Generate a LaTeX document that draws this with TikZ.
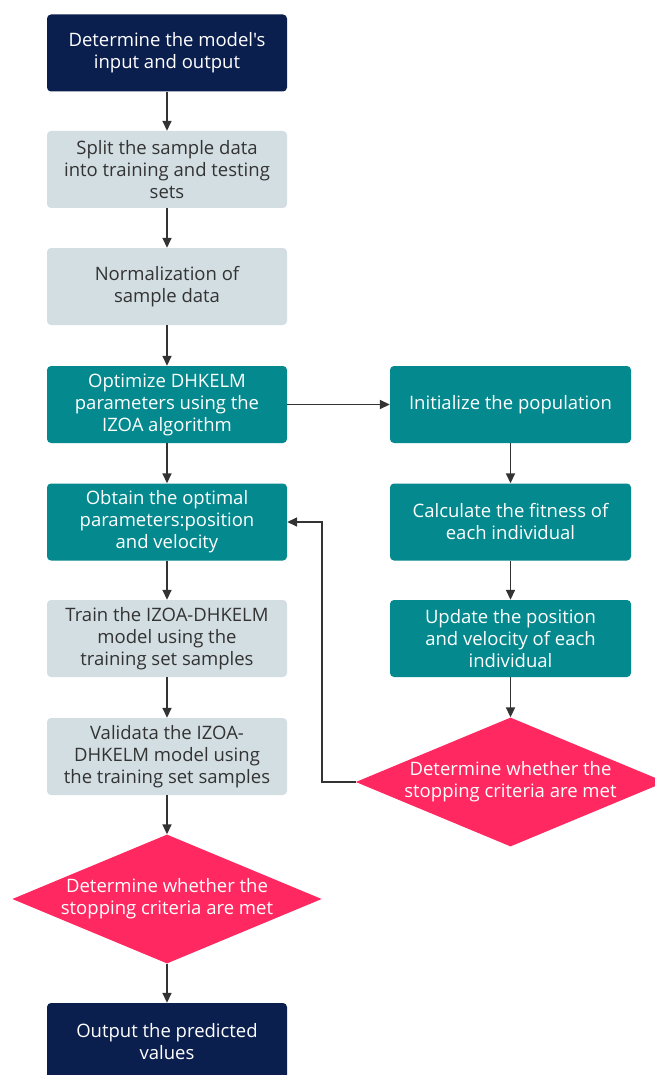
\documentclass[tikz,border=0pt]{standalone}
\usepackage{fontspec}
\setmainfont{Open Sans}[Ligatures=TeXOff]
\usetikzlibrary{arrows.meta,shapes.geometric}
\definecolor{navy}{HTML}{0B1F4F}
\definecolor{tealbox}{HTML}{03898E}
\definecolor{lightbox}{HTML}{D3DEE3}
\definecolor{pinkdia}{HTML}{FF2860}
\definecolor{arrowc}{HTML}{333333}
\definecolor{darktext}{HTML}{333333}
\tikzset{
  base/.style={rectangle, rounded corners=4pt, minimum width=240pt, minimum height=77pt, align=center, inner sep=2pt, font=\fontsize{18.5}{22}\selectfont},
  navybox/.style={base, fill=navy, text=white},
  tealnode/.style={base, fill=tealbox, text=white},
  lightnode/.style={base, fill=lightbox, text=darktext},
  decision/.style={diamond, fill=pinkdia, text=white, minimum width=309pt, minimum height=128pt, aspect=2.4, inner sep=0pt, align=center, font=\fontsize{18.5}{22}\selectfont},
  conn/.style={draw=arrowc, line width=1.6pt, -{Triangle[length=10pt,width=9pt]}}
}
\begin{document}
\begin{tikzpicture}[x=1pt,y=-1pt]
\useasboundingbox (0,0) rectangle (655,1075);
\clip (0,0) rectangle (655,1075);
\fill[white] (0,0) rectangle (655,1075);
\node[navybox] (b1) at (167,53) {Determine the model's\\input and output};
\node[lightnode] (b2) at (167,169.5) {Split the sample data\\into training and testing\\sets};
\node[lightnode] (b3) at (167,286.5) {Normalization of\\sample data};
\node[tealnode] (b4) at (167,404.5) {Optimize DHKELM\\parameters using the\\IZOA algorithm};
\node[tealnode] (b5) at (167,522) {Obtain the optimal\\parameters:position\\and velocity};
\node[lightnode] (b6) at (167,638.5) {Train the IZOA-DHKELM\\model using the\\training set samples};
\node[lightnode] (b7) at (167,756.5) {Validata the IZOA-\\DHKELM model using\\the training set samples};
\node[decision] (d1) at (167,899) {Determine whether the\\stopping criteria are met};
\node[navybox, minimum height=78pt] (b8) at (167,1042) {Output the predicted\\values};
\node[tealnode, minimum width=241pt] (r1) at (510.5,404.5) {Initialize the population};
\node[tealnode, minimum width=241pt] (r2) at (510.5,522) {Calculate the fitness of\\each individual};
\node[tealnode, minimum width=241pt] (r3) at (510.5,638.5) {Update the position\\and velocity of each\\individual};
\node[decision] (d2) at (510.5,782) {Determine whether the\\stopping criteria are met};
\coordinate (loopx) at (322,782);
\draw[conn] (b1) -- (b2);
\draw[conn] (b2) -- (b3);
\draw[conn] (b3) -- (b4);
\draw[conn] (b4) -- (b5);
\draw[conn] (b5) -- (b6);
\draw[conn] (b6) -- (b7);
\draw[conn] (b7) -- (d1);
\draw[conn] (d1) -- (b8);
\draw[conn] (b4) -- (r1);
\draw[conn] (r1) -- (r2);
\draw[conn] (r2) -- (r3);
\draw[conn] (r3) -- (d2);
\draw[conn] (d2.west) -- (loopx) |- (b5.east);
\end{tikzpicture}
\end{document}
